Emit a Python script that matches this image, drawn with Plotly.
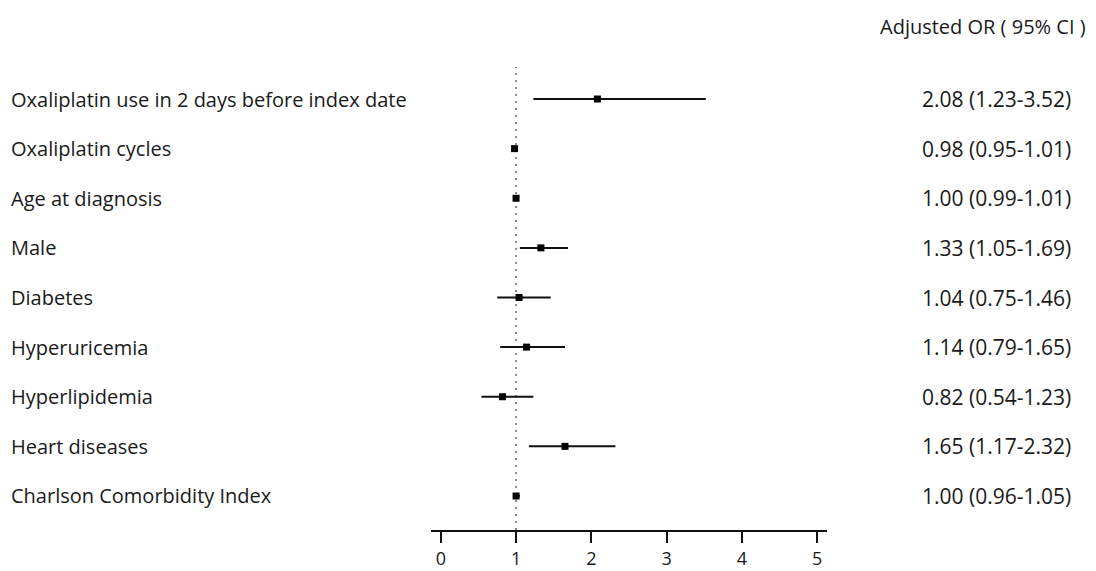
import plotly.graph_objects as go

labels = ["Oxaliplatin use in 2 days before index date", "Oxaliplatin cycles",
          "Age at diagnosis", "Male", "Diabetes", "Hyperuricemia",
          "Hyperlipidemia", "Heart diseases", "Charlson Comorbidity Index"]
odds = [2.08, 0.98, 1.00, 1.33, 1.04, 1.14, 0.82, 1.65, 1.00]
lower = [1.23, 0.95, 0.99, 1.05, 0.75, 0.79, 0.54, 1.17, 0.96]
upper = [3.52, 1.01, 1.01, 1.69, 1.46, 1.65, 1.23, 2.32, 1.05]
header = "Adjusted OR ( 95% CI )"
x_ticks = [0, 1, 2, 3, 4, 5]

n = len(labels)
ypos = [n - i for i in range(n)]
FONT = "Open Sans"
FS_LAB = 20
FS_NUM = 21
FS_TICK = 18
TXT = "#1a1a1a"

fig = go.Figure()
fig.add_trace(go.Scatter(
    x=odds, y=ypos, mode="markers",
    marker=dict(symbol="square", size=7, color="black"),
    error_x=dict(type="data", symmetric=False,
                 array=[u - o for u, o in zip(upper, odds)],
                 arrayminus=[o - l for o, l in zip(odds, lower)],
                 thickness=2, width=0, color="#111111"),
    showlegend=False, hoverinfo="skip"))

fig.add_shape(type="line", xref="x", yref="paper", x0=1, x1=1, y0=0, y1=1,
              line=dict(color="#888888", width=2, dash="2px,5px"), layer="below")

L, R = 431, 827
W = R - L
top, bottom = 67, 530
def px(xp):
    return (xp - L) / W
def py(yp):
    return (bottom - yp) / (bottom - top)

annotations = []
for lab, y, o, lo, hi in zip(labels, ypos, odds, lower, upper):
    annotations.append(dict(x=px(9), y=y, xref="paper", yref="y", text=lab,
                            xanchor="left", yanchor="middle", showarrow=False,
                            font=dict(family=FONT, size=FS_LAB, color=TXT)))
    annotations.append(dict(x=px(1073), y=y, xref="paper", yref="y",
                            text=f"{o:.2f} ({lo:.2f}-{hi:.2f})",
                            xanchor="right", yanchor="middle", showarrow=False,
                            font=dict(family=FONT, size=FS_NUM, color=TXT)))
annotations.append(dict(x=px(1088), y=py(26), xref="paper", yref="paper", text=header,
                        xanchor="right", yanchor="middle", showarrow=False,
                        font=dict(family=FONT, size=FS_LAB, color=TXT)))

fig.update_layout(
    width=1096, height=571,
    margin=dict(l=L, r=1096 - R, t=top, b=571 - bottom, pad=0, autoexpand=False),
    paper_bgcolor="white", plot_bgcolor="white",
    xaxis=dict(range=[-0.13, 5.13], tickvals=x_ticks, ticks="outside", ticklen=11,
               tickwidth=2, tickcolor="#111111", showline=True, linewidth=2,
               linecolor="#111111", showgrid=False, zeroline=False, automargin=False,
               ticklabelstandoff=0,
               tickfont=dict(family=FONT, size=FS_TICK, color=TXT)),
    yaxis=dict(range=[1 - 34 / 49.6, n + 32 / 49.6], visible=False,
               showgrid=False, zeroline=False, automargin=False),
    annotations=annotations,
)

fig.write_html("out.html", config={"displayModeBar": False},
               post_script="document.body.style.margin='0';document.body.style.overflow='hidden';")
